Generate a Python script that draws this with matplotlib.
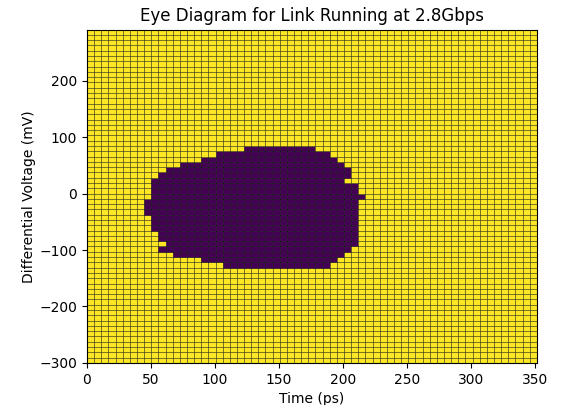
import matplotlib
matplotlib.use("Agg")
import matplotlib.pyplot as plt
import numpy as np

# scan grid: 64 time steps over one UI (2.8Gbps), 64 voltage steps
ui_ps = 1e12 / 2.8e9
time_ps = np.arange(64) * ui_ps / 64
volt_mv = -300 + np.arange(64) * 9.375

# open eye, per voltage row (index from bottom): first / last open time column
eye_rows = list(range(18, 41))
eye_left = [19, 16, 12, 10, 11, 10, 10, 9, 9, 9, 8, 8, 8, 9, 9, 9, 9, 10, 11, 13, 16, 18, 22]
eye_right = [33, 34, 35, 36, 37, 37, 37, 37, 37, 37, 37, 37, 37, 38, 37, 37, 35, 36, 36, 35, 34, 33, 31]

errors = np.ones((63, 63))
for r, lo, hi in zip(eye_rows, eye_left, eye_right):
    errors[r, lo:hi + 1] = 0

fig = plt.figure(figsize=(5.61, 4.05), dpi=100)
ax = fig.add_axes([0.155, 0.104, 0.802, 0.823])
ax.pcolormesh(time_ps, volt_mv, errors, cmap='viridis',
              edgecolors=(0, 0, 0, 0.55), linewidth=0.5, antialiased=True)

ax.set_title('Eye Diagram for Link Running at 2.8Gbps')
ax.set_xlabel('Time (ps)')
ax.set_ylabel('Differential Voltage (mV)', labelpad=2)

plt.savefig('out.png', dpi=100)
